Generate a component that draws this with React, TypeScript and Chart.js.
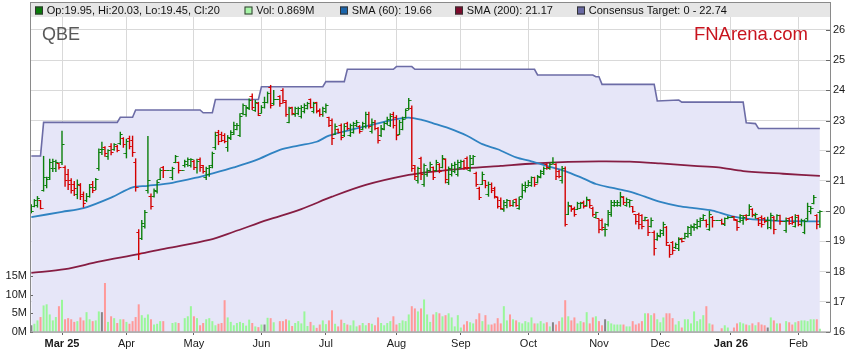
import { useEffect, useRef } from 'react';
import { Chart, registerables } from 'chart.js';

Chart.register(...registerables);

const FONT = "Arial, 'Liberation Sans', sans-serif";

// x axis: one slot per weekday, Feb 17 2025 (0) .. Feb 11 2026 (257)
const monthTickIdx = [10, 31, 53, 75, 96, 119, 140, 162, 185, 205, 228, 250];
const monthLabels = ['Mar 25', 'Apr', 'May', 'Jun', 'Jul', 'Aug', 'Sep', 'Oct', 'Nov', 'Dec', 'Jan 26', 'Feb'];
const boldLabels = ['Mar 25', 'Jan 26'];
const priceTicks = [16, 17, 18, 19, 20, 21, 22, 23, 24, 25, 26];
const volumeTicks = [0, 5, 10, 15];

const legendTexts = [
  'Op:19.95, Hi:20.03, Lo:19.45, Cl:20',
  'Vol: 0.869M',
  'SMA (60): 19.66',
  'SMA (200): 21.17',
  'Consensus Target: 0 - 22.74',
];

const opens = [
  20.00, 20.15, 20.20, 20.35, 20.70, 20.85, 21.10, 21.40, 21.40, 21.58,
  21.60, 21.45, 21.20, 21.00, 20.90, 20.55, 20.85, 20.55, 20.35, 20.50,
  20.90, 20.80, 21.40, 22.05, 22.10, 21.80, 22.15, 22.05, 22.15, 22.25,
  22.40, 21.90, 22.40, 22.35, 21.60, 19.30, 19.10, 19.50, 20.70, 20.50,
  20.50, 20.65, 21.05, 21.45, 21.34, 21.34, 21.10, 21.60, 21.60, 21.35,
  21.50, 21.55, 21.50, 21.65, 21.45, 21.70, 21.50, 21.10, 21.20, 21.50,
  22.10, 22.60, 22.55, 22.50, 22.10, 22.40, 22.55, 22.70, 22.50, 23.25,
  23.20, 23.40, 23.80, 23.35, 23.55, 23.25, 23.60, 23.60, 24.10, 23.55,
  23.70, 23.80, 24.00, 23.60, 22.95, 23.45, 23.20, 23.25, 23.15, 23.30,
  23.40, 23.70, 23.30, 23.60, 23.35, 23.20, 23.30, 23.10, 23.00, 22.55,
  22.70, 22.85, 22.50, 22.90, 22.50, 22.60, 22.85, 22.80, 22.70, 22.80,
  23.20, 22.65, 22.95, 22.75, 22.50, 22.70, 22.90, 22.85, 23.20, 23.10,
  22.55, 22.70, 23.10, 23.40, 23.40, 21.50, 21.00, 21.75, 20.90, 21.20,
  21.35, 21.45, 21.35, 21.55, 21.45, 21.70, 20.95, 21.20, 21.30, 21.20,
  21.45, 21.65, 21.75, 21.35, 21.55, 21.25, 20.75, 20.90, 21.00, 20.55,
  20.90, 20.75, 20.45, 20.35, 20.05, 20.20, 20.35, 20.20, 20.40, 20.10,
  20.50, 20.70, 20.85, 20.85, 21.10, 20.95, 21.10, 21.25, 21.55, 21.40,
  21.60, 21.55, 21.30, 21.00, 21.40, 19.90, 20.15, 20.10, 20.05, 20.10,
  20.30, 20.20, 20.35, 20.10, 19.80, 19.75, 19.70, 19.40, 19.55, 19.90,
  20.20, 20.20, 20.20, 20.45, 20.20, 20.30, 20.15, 19.88, 19.90, 19.85,
  19.70, 19.70, 19.50, 19.30, 19.05, 19.15, 19.25, 19.45, 18.85, 18.95,
  18.80, 18.75, 19.10, 19.10, 19.15, 19.25, 19.45, 19.45, 19.50, 19.70,
  19.70, 19.40, 19.80, 19.68, 19.68, 19.70, 19.55, 19.75, 19.80, 19.82,
  19.70, 19.65, 19.70, 19.85, 19.85, 20.05, 19.85, 19.75, 19.80, 19.75,
  19.70, 19.45, 19.80, 19.70, 19.85, 19.65, 19.35, 19.75, 19.80, 19.50,
  19.85, 19.55, 19.30, 19.75, 20.00, 20.25, 19.85, 19.95,
];

const highs = [
  20.23, 20.40, 20.50, 20.37, 21.83, 21.14, 21.74, 21.74, 21.70, 21.60,
  22.66, 21.51, 21.40, 21.09, 21.00, 21.05, 20.93, 20.65, 20.60, 20.90,
  21.00, 21.10, 22.08, 22.30, 22.15, 22.05, 22.25, 22.25, 22.20, 22.63,
  22.45, 22.40, 22.50, 22.50, 21.75, 19.40, 19.71, 20.04, 22.49, 20.59,
  20.75, 21.03, 21.42, 21.50, 21.34, 21.34, 21.47, 21.86, 21.64, 21.35,
  21.70, 21.78, 21.75, 21.70, 21.74, 21.78, 21.53, 21.47, 21.53, 21.97,
  22.63, 22.69, 22.63, 22.58, 22.52, 22.68, 22.96, 22.92, 23.24, 23.57,
  23.51, 23.73, 23.90, 23.68, 23.62, 23.51, 23.79, 23.96, 24.18, 24.01,
  23.70, 23.84, 24.07, 23.68, 23.46, 23.46, 23.46, 23.46, 23.51, 23.57,
  23.62, 23.73, 23.62, 23.62, 23.40, 23.46, 23.57, 23.13, 23.07, 22.90,
  22.74, 22.90, 22.90, 22.96, 22.90, 22.96, 23.02, 22.85, 22.96, 23.29,
  23.29, 23.07, 23.02, 22.79, 22.85, 22.96, 23.13, 23.24, 23.29, 23.18,
  23.02, 23.13, 23.40, 23.75, 23.50, 21.53, 21.47, 21.80, 21.58, 21.42,
  21.64, 21.48, 21.70, 21.59, 21.86, 21.75, 21.48, 21.59, 21.64, 21.70,
  21.70, 21.70, 21.81, 21.86, 21.86, 21.31, 20.81, 21.31, 21.03, 20.98,
  20.95, 20.81, 20.48, 20.45, 20.37, 20.40, 20.37, 20.37, 20.42, 20.48,
  20.92, 20.98, 21.03, 21.15, 21.14, 21.20, 21.37, 21.48, 21.59, 21.60,
  21.79, 21.59, 21.37, 21.50, 21.48, 20.31, 20.20, 20.15, 20.31, 20.31,
  20.35, 20.48, 20.40, 20.15, 19.98, 19.76, 19.76, 19.60, 20.04, 20.37,
  20.37, 20.37, 20.64, 20.50, 20.45, 20.39, 20.17, 19.90, 19.95, 19.90,
  19.82, 19.73, 19.79, 19.36, 19.29, 19.40, 19.65, 19.51, 18.90, 19.01,
  18.96, 19.14, 19.12, 19.29, 19.51, 19.56, 19.60, 19.73, 19.79, 19.90,
  19.73, 20.01, 19.84, 19.68, 19.68, 19.75, 19.79, 19.84, 19.80, 19.84,
  19.73, 19.90, 19.87, 19.90, 20.23, 20.10, 19.95, 19.79, 19.86, 19.80,
  19.82, 19.95, 19.84, 19.90, 19.88, 19.65, 19.79, 19.78, 19.84, 19.90,
  19.88, 19.75, 19.73, 20.28, 20.17, 20.54, 19.90, 20.03,
];

const lows = [
  19.93, 20.13, 20.12, 20.06, 20.65, 20.76, 21.03, 21.30, 21.30, 21.38,
  21.53, 20.81, 20.70, 20.59, 20.50, 20.40, 20.37, 20.12, 20.30, 20.45,
  20.60, 20.70, 21.34, 21.86, 21.80, 21.70, 21.85, 22.00, 21.95, 22.19,
  22.10, 21.75, 22.05, 21.80, 20.65, 18.38, 19.05, 19.43, 20.59, 20.06,
  20.45, 20.59, 21.03, 21.10, 21.34, 21.34, 21.03, 21.59, 21.25, 21.35,
  21.45, 21.47, 21.45, 21.36, 21.25, 21.31, 21.25, 21.03, 21.14, 21.42,
  22.03, 22.19, 22.29, 22.25, 21.97, 22.36, 22.52, 22.68, 22.46, 23.18,
  23.13, 23.35, 23.35, 23.29, 23.15, 23.24, 23.40, 23.57, 23.40, 23.51,
  23.70, 23.46, 23.57, 23.13, 22.91, 23.18, 23.13, 23.18, 23.07, 23.24,
  23.37, 23.40, 23.24, 23.24, 23.13, 23.13, 23.24, 22.79, 22.19, 22.52,
  22.57, 22.35, 22.46, 22.68, 22.46, 22.57, 22.79, 22.57, 22.68, 22.74,
  22.74, 22.57, 22.68, 22.24, 22.46, 22.68, 22.85, 22.79, 22.74, 22.35,
  22.52, 22.68, 23.07, 23.35, 21.31, 21.03, 20.92, 21.03, 20.81, 21.14,
  21.31, 21.03, 21.31, 21.26, 21.42, 20.92, 20.87, 21.15, 21.26, 21.15,
  21.42, 21.37, 21.37, 21.31, 21.53, 20.81, 20.37, 20.87, 20.76, 20.48,
  20.60, 20.42, 20.09, 20.05, 19.98, 20.10, 20.15, 20.15, 20.15, 20.05,
  20.42, 20.62, 20.81, 20.81, 20.81, 20.92, 21.09, 21.20, 21.37, 21.37,
  21.55, 21.03, 21.09, 20.92, 19.49, 19.87, 19.98, 19.82, 20.04, 20.09,
  20.09, 20.15, 20.10, 19.82, 19.76, 19.27, 19.35, 19.16, 19.49, 19.82,
  20.15, 20.15, 20.15, 20.20, 20.15, 20.12, 19.95, 19.56, 19.40, 19.40,
  19.67, 19.18, 19.46, 18.53, 19.02, 19.13, 19.18, 18.85, 18.46, 18.57,
  18.75, 18.68, 18.96, 19.07, 19.12, 19.18, 19.35, 19.40, 19.46, 19.68,
  19.46, 19.35, 19.46, 19.68, 19.68, 19.55, 19.51, 19.73, 19.80, 19.68,
  19.35, 19.62, 19.55, 19.68, 19.84, 19.80, 19.75, 19.51, 19.46, 19.60,
  19.40, 19.40, 19.24, 19.68, 19.55, 19.65, 19.29, 19.55, 19.55, 19.46,
  19.50, 19.50, 19.24, 19.68, 19.90, 20.23, 19.40, 19.45,
];

const closes = [
  20.00, 20.35, 20.42, 20.10, 21.10, 21.05, 21.60, 21.65, 21.60, 21.45,
  22.20, 21.00, 20.90, 20.70, 20.75, 20.90, 20.50, 20.25, 20.50, 20.80,
  20.70, 21.05, 21.95, 22.05, 21.90, 22.00, 21.95, 22.20, 22.00, 22.55,
  22.20, 22.30, 22.15, 21.95, 20.80, 18.60, 19.60, 19.95, 21.00, 20.15,
  20.70, 20.95, 21.35, 21.34, 21.34, 21.34, 21.40, 21.80, 21.35, 21.35,
  21.65, 21.70, 21.70, 21.45, 21.65, 21.45, 21.30, 21.40, 21.45, 21.90,
  22.50, 22.30, 22.35, 22.30, 22.45, 22.60, 22.85, 22.85, 23.15, 23.50,
  23.45, 23.65, 23.45, 23.60, 23.17, 23.45, 23.60, 23.90, 23.50, 23.70,
  23.70, 23.55, 23.65, 23.20, 23.40, 23.25, 23.40, 23.40, 23.45, 23.50,
  23.55, 23.45, 23.55, 23.30, 23.20, 23.40, 23.50, 22.85, 22.40, 22.80,
  22.60, 22.45, 22.80, 22.75, 22.85, 22.90, 22.95, 22.65, 22.90, 23.20,
  22.80, 22.95, 22.75, 22.35, 22.75, 22.90, 23.05, 23.15, 22.85, 22.50,
  22.95, 23.05, 23.35, 23.65, 21.40, 21.15, 21.40, 21.20, 21.50, 21.35,
  21.55, 21.10, 21.60, 21.30, 21.75, 21.05, 21.40, 21.50, 21.55, 21.60,
  21.65, 21.45, 21.45, 21.75, 21.80, 20.90, 20.45, 21.20, 20.85, 20.90,
  20.70, 20.50, 20.15, 20.10, 20.30, 20.35, 20.20, 20.30, 20.20, 20.40,
  20.85, 20.80, 20.95, 21.10, 20.90, 21.15, 21.30, 21.40, 21.45, 21.55,
  21.60, 21.15, 21.15, 21.40, 19.55, 20.20, 20.05, 19.90, 20.25, 20.25,
  20.15, 20.40, 20.20, 19.90, 19.95, 19.40, 19.45, 19.40, 19.95, 20.30,
  20.30, 20.30, 20.50, 20.30, 20.40, 20.35, 20.00, 19.65, 19.55, 19.50,
  19.80, 19.30, 19.70, 18.75, 19.20, 19.35, 19.55, 18.95, 18.55, 18.70,
  18.90, 19.05, 19.00, 19.25, 19.45, 19.50, 19.55, 19.65, 19.75, 19.85,
  19.55, 19.90, 19.68, 19.68, 19.68, 19.60, 19.75, 19.80, 19.80, 19.72,
  19.45, 19.85, 19.80, 19.72, 20.15, 19.90, 19.90, 19.60, 19.55, 19.65,
  19.70, 19.85, 19.40, 19.85, 19.65, 19.65, 19.70, 19.60, 19.62, 19.80,
  19.55, 19.70, 19.65, 20.15, 20.10, 20.45, 19.55, 20.00,
];

// volume in millions
const volumes = [
  1.8, 2.2, 3.1, 4.0, 7.1, 7.4, 4.7, 3.1, 4.0, 6.9,
  8.6, 3.4, 3.7, 3.4, 2.7, 2.9, 3.9, 3.1, 5.3, 3.4,
  2.9, 3.1, 5.5, 5.3, 13.1, 2.7, 4.2, 3.7, 2.4, 3.4,
  3.4, 2.7, 2.2, 2.9, 4.0, 7.4, 4.5, 3.8, 4.7, 3.4,
  2.0, 2.2, 2.9, 2.9, 0, 0, 2.4, 2.6, 2.4, 0,
  3.7, 4.2, 6.9, 4.2, 3.7, 1.8, 2.4, 3.4, 3.7, 2.9,
  1.8, 2.2, 2.4, 8.5, 3.9, 2.7, 1.8, 2.4, 2.7, 2.4,
  1.7, 3.3, 2.4, 1.5, 1.3, 2.0, 2.0, 3.8, 3.7, 2.6,
  0, 2.9, 2.9, 3.4, 3.1, 1.6, 2.4, 2.9, 2.3, 5.5,
  1.6, 2.7, 1.8, 1.1, 2.0, 3.1, 2.1, 3.1, 5.8, 2.2,
  1.5, 3.3, 2.4, 2.0, 1.8, 3.1, 1.5, 1.8, 2.4, 1.8,
  2.4, 2.2, 1.8, 3.9, 2.4, 1.8, 2.4, 2.9, 4.2, 2.0,
  2.4, 3.1, 2.9, 4.7, 6.9, 6.3, 5.5, 6.3, 8.7, 4.7,
  2.7, 4.7, 5.3, 5.0, 4.2, 4.5, 5.0, 3.9, 1.5, 4.5,
  1.2, 2.0, 2.9, 2.6, 2.3, 3.4, 5.0, 2.9, 4.5, 2.0,
  2.0, 2.3, 3.7, 2.3, 6.9, 3.1, 4.7, 3.4, 3.1, 2.6,
  2.3, 2.9, 2.6, 3.9, 2.3, 2.3, 2.9, 2.3, 2.6, 1.5,
  2.6, 2.0, 2.9, 3.9, 8.5, 4.2, 3.1, 3.9, 2.3, 2.9,
  2.6, 5.3, 2.3, 3.9, 4.2, 2.9, 1.8, 3.4, 2.9, 2.3,
  2.0, 2.0, 2.0, 2.0, 1.5, 1.5, 2.9, 2.0, 2.3, 2.9,
  5.0, 5.0, 4.5, 5.0, 3.4, 2.6, 3.9, 5.0, 5.0, 3.7,
  2.0, 2.9, 1.2, 3.4, 3.4, 2.3, 5.5, 2.9, 3.4, 4.5,
  6.9, 2.3, 2.0, 0, 0, 1.0, 1.8, 1.2, 0, 1.2,
  2.3, 2.6, 2.3, 2.0, 1.8, 2.3, 1.8, 2.6, 2.0, 1.8,
  1.2, 3.9, 3.1, 2.3, 2.3, 0, 2.9, 2.6, 2.0, 2.6,
  2.9, 3.1, 3.1, 2.9, 3.4, 3.4, 3.4, 0.869,
];

const sma60Idx = [0, 10, 17, 26, 33, 38, 46, 55, 58, 66, 73, 81, 87, 93, 97, 104, 115, 119, 123, 127, 131, 136, 142, 147, 152, 158, 163, 169, 174, 180, 184, 189, 195, 200, 205, 211, 216, 222, 227, 232, 238, 243, 249, 257];
const sma60Val = [19.80, 19.98, 20.10, 20.45, 20.79, 20.84, 20.94, 21.14, 21.22, 21.45, 21.68, 22.03, 22.17, 22.30, 22.50, 22.69, 22.96, 23.05, 23.10, 23.03, 22.91, 22.75, 22.50, 22.22, 22.05, 21.78, 21.65, 21.47, 21.33, 21.08, 20.90, 20.78, 20.65, 20.48, 20.31, 20.17, 20.10, 20.02, 19.87, 19.76, 19.71, 19.68, 19.67, 19.66];

const sma200Idx = [0, 11, 22, 35, 44, 58, 66, 77, 88, 98, 109, 123, 131, 142, 153, 164, 175, 185, 195, 205, 216, 224, 232, 245, 257];
const sma200Val = [17.96, 18.08, 18.33, 18.58, 18.77, 19.05, 19.32, 19.71, 20.07, 20.48, 20.87, 21.20, 21.31, 21.42, 21.50, 21.58, 21.63, 21.65, 21.64, 21.58, 21.50, 21.45, 21.33, 21.24, 21.17];

const targetIdx = [0, 3, 4, 28, 29, 33, 34, 55, 56, 59, 60, 74, 75, 95, 96, 102, 103, 118, 119, 124, 125, 164, 165, 183, 184, 185, 186, 203, 204, 211, 212, 232, 233, 236, 237, 257];
const targetVal = [21.83, 21.83, 22.94, 22.94, 23.11, 23.11, 23.35, 23.35, 23.26, 23.26, 23.70, 23.70, 24.12, 24.12, 24.29, 24.29, 24.70, 24.70, 24.79, 24.79, 24.70, 24.70, 24.51, 24.51, 24.45, 24.45, 24.20, 24.20, 23.65, 23.68, 23.61, 23.61, 22.93, 22.90, 22.74, 22.74];

const UP = '#0b7f0b';
const DOWN = '#d40000';
const VOL_UP = '#99f799';
const VOL_DOWN = '#ff9999';
const VOL_FLAT = '#858585';

function makeTick(color: string, side: 'open' | 'close') {
  const c = document.createElement('canvas');
  c.width = 6;
  c.height = 1;
  const g = c.getContext('2d')!;
  g.fillStyle = color;
  g.fillRect(side === 'open' ? 0.5 : 3, 0, 2.5, 1);
  return c;
}

export default function App() {
  const ref = useRef<HTMLCanvasElement>(null);

  useEffect(() => {
    document.body.style.margin = '0';
    const canvas = ref.current;
    if (!canvas) return;

    const idx = closes.map((_, i) => i);
    const up = idx.map((i) => closes[i] >= opens[i]);
    const openUp = makeTick(UP, 'open');
    const openDown = makeTick(DOWN, 'open');
    const closeUp = makeTick(UP, 'close');
    const closeDown = makeTick(DOWN, 'close');

    const decor = {
      id: 'decor',
      afterDatasetsDraw(chart: any) {
        const ctx = chart.ctx;
        const { left, right } = chart.chartArea;
        const py = chart.scales.price;
        const vy = chart.scales.vol;
        ctx.save();
        ctx.strokeStyle = '#666';
        ctx.lineWidth = 1;
        ctx.beginPath();
        priceTicks.forEach((v) => {
          const y = Math.round(py.getPixelForValue(v)) + 0.5;
          ctx.moveTo(right - 4, y);
          ctx.lineTo(right, y);
        });
        volumeTicks.forEach((v) => {
          const y = Math.round(vy.getPixelForValue(v)) + 0.5;
          ctx.moveTo(left, y);
          ctx.lineTo(left + 3, y);
        });
        ctx.stroke();
        ctx.restore();
      },
      afterDraw(chart: any) {
        const ctx = chart.ctx;
        const { left, right, top, bottom } = chart.chartArea;
        ctx.save();
        ctx.fillStyle = '#e6e6e6';
        ctx.fillRect(left, 3, right - left, top - 3);
        ctx.strokeStyle = '#8a8a8a';
        ctx.lineWidth = 1;
        ctx.strokeRect(left + 0.5, 2.5, right - left, bottom - 2.5);
        const swatches = [
          { x: 35, fill: '#0a7a0a' },
          { x: 244.5, fill: '#a6f5a6' },
          { x: 340, fill: '#1a64aa' },
          { x: 455, fill: '#7d0b2c' },
          { x: 577, fill: '#6a6aa4' },
        ];
        ctx.font = `11px ${FONT}`;
        ctx.textBaseline = 'middle';
        ctx.textAlign = 'left';
        swatches.forEach((s, k) => {
          ctx.fillStyle = s.fill;
          ctx.fillRect(s.x, 6.5, 8, 8);
          ctx.strokeStyle = '#333';
          ctx.strokeRect(s.x + 0.5, 7, 7, 7);
          ctx.fillStyle = '#111';
          ctx.fillText(legendTexts[k], s.x + 11.7, 10.5);
        });
        ctx.textBaseline = 'alphabetic';
        ctx.font = `18px ${FONT}`;
        ctx.fillStyle = '#595959';
        ctx.fillText('QBE', 42, 40);
        ctx.font = `18.5px ${FONT}`;
        ctx.fillStyle = '#c8141e';
        ctx.textAlign = 'right';
        ctx.fillText('FNArena.com', 808, 40);
        ctx.restore();
      },
    };

    const chart = new Chart(canvas, {
      type: 'bar',
      data: {
        datasets: [
          {
            type: 'line',
            label: 'Consensus Target',
            data: targetIdx.map((x, k) => ({ x, y: targetVal[k] })),
            yAxisID: 'price',
            borderColor: '#6c6ca6',
            borderWidth: 1.6,
            backgroundColor: '#e6e6f8',
            fill: 'start',
            pointRadius: 0,
            tension: 0,
            order: 10,
          },
          {
            type: 'bar',
            label: 'Vol',
            data: idx.map((i) => ({ x: i, y: volumes[i] })),
            yAxisID: 'vol',
            backgroundColor: idx.map((i) => (closes[i] > opens[i] ? VOL_UP : closes[i] < opens[i] ? VOL_DOWN : VOL_FLAT)),
            barThickness: 2,
            grouped: false,
            inflateAmount: 0,
            borderWidth: 0,
            order: 9,
          },
          {
            type: 'line',
            label: 'SMA (200)',
            data: sma200Idx.map((x, k) => ({ x, y: sma200Val[k] })),
            yAxisID: 'price',
            borderColor: '#861d43',
            borderWidth: 1.8,
            pointRadius: 0,
            tension: 0.3,
            fill: false,
            order: 5,
          },
          {
            type: 'line',
            label: 'SMA (60)',
            data: sma60Idx.map((x, k) => ({ x, y: sma60Val[k] })),
            yAxisID: 'price',
            borderColor: '#3083c2',
            borderWidth: 1.8,
            pointRadius: 0,
            tension: 0.3,
            fill: false,
            order: 4,
          },
          {
            type: 'bar',
            label: 'HL',
            data: idx.map((i) => ({ x: i, y: [lows[i], highs[i]] })) as any,
            yAxisID: 'price',
            backgroundColor: idx.map((i) => (up[i] ? UP : DOWN)),
            barThickness: 1.4,
            grouped: false,
            inflateAmount: 0,
            borderWidth: 0,
            order: 3,
          },
          {
            type: 'scatter',
            label: 'Open',
            data: idx.map((i) => ({ x: i, y: opens[i] })),
            yAxisID: 'price',
            pointStyle: (c: any) => (up[c.dataIndex] ? openUp : openDown),
            pointRadius: 3,
            order: 2,
          },
          {
            type: 'scatter',
            label: 'Close',
            data: idx.map((i) => ({ x: i, y: closes[i] })),
            yAxisID: 'price',
            pointStyle: (c: any) => (up[c.dataIndex] ? closeUp : closeDown),
            pointRadius: 3,
            order: 1,
          },
        ] as any,
      },
      options: {
        responsive: false,
        animation: false,
        events: [],
        layout: { padding: { top: 17, left: 0, right: 0, bottom: 0 } },
        plugins: { legend: { display: false }, tooltip: { enabled: false }, title: { display: false } },
        scales: {
          x: {
            type: 'linear',
            min: -0.43,
            max: 260.3,
            offset: false,
            afterBuildTicks: (s: any) => {
              s.ticks = monthTickIdx.map((v) => ({ value: v }));
            },
            afterFit: (s: any) => {
              s.height = 31;
            },
            ticks: {
              autoSkip: false,
              maxRotation: 0,
              padding: 2,
              color: '#1a1a1a',
              font: (c: any) => {
                const k = c.tick ? monthTickIdx.indexOf(c.tick.value) : -1;
                const bold = k >= 0 && boldLabels.includes(monthLabels[k]);
                return { family: FONT, size: 11, weight: bold ? 'bold' : 'normal' };
              },
              callback: (v: any) => {
                const k = monthTickIdx.indexOf(Number(v));
                return k >= 0 ? monthLabels[k] : '';
              },
            },
            grid: { color: '#d9d9d9', tickColor: '#666', tickLength: 3, offset: false },
            border: { display: false },
          },
          price: {
            type: 'linear',
            position: 'right',
            min: 16,
            max: 26.43,
            afterBuildTicks: (s: any) => {
              s.ticks = priceTicks.map((v) => ({ value: v }));
            },
            afterFit: (s: any) => {
              s.width = 29;
            },
            ticks: { padding: 3, color: '#1a1a1a', font: { family: FONT, size: 11 } },
            grid: { color: '#d9d9d9', drawTicks: false },
            border: { display: false },
          },
          vol: {
            type: 'linear',
            position: 'left',
            min: 0,
            max: 84.2,
            afterBuildTicks: (s: any) => {
              s.ticks = volumeTicks.map((v) => ({ value: v }));
            },
            afterFit: (s: any) => {
              s.width = 30;
            },
            ticks: {
              padding: 3,
              color: '#1a1a1a',
              font: { family: FONT, size: 11 },
              callback: (v: any) => `${v}M`,
            },
            grid: { drawOnChartArea: false, drawTicks: false },
            border: { display: false },
          },
        },
      } as any,
      plugins: [decor],
    });

    return () => chart.destroy();
  }, []);

  return (
    <div style={{ position: 'absolute', left: 0, top: 0, width: 859, height: 363 }}>
      <canvas ref={ref} width={859} height={363} style={{ display: 'block' }} />
    </div>
  );
}
